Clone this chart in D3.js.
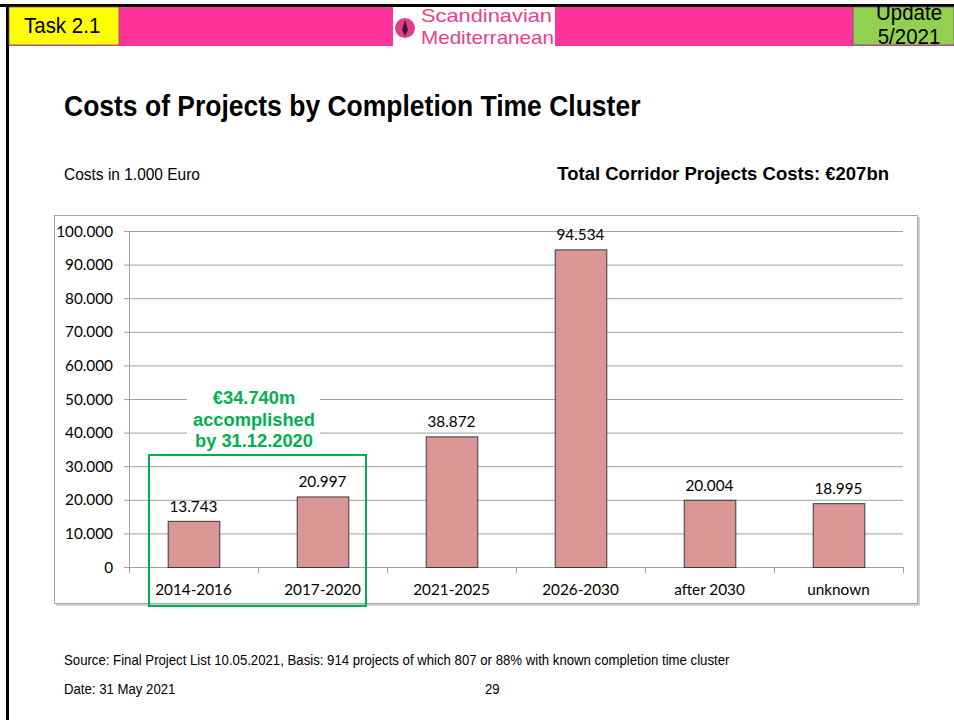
<!DOCTYPE html>
<html>
<head>
<meta charset="utf-8">
<script src="https://cdn.jsdelivr.net/npm/d3@7"></script>
<style>
  html,body{margin:0;padding:0;background:#fff;}
  svg{display:block;}
</style>
</head>
<body>
<div id="chart"></div>
<script>
// Kosten je Fertigstellungs-Cluster (in 1.000 Euro)
const categories = ["2014-2016","2017-2020","2021-2025","2026-2030","after 2030","unknown"];
const costs = [13743, 20997, 38872, 94534, 20004, 18995];
const yTicks = [0,10000,20000,30000,40000,50000,60000,70000,80000,90000,100000];
const noteLines = ["€34.740m","accomplished","by 31.12.2020"];

const W=954, H=720;
const svg = d3.select("#chart").append("svg").attr("width",W).attr("height",H);
const fmt = v => v===0 ? "0" : d3.format(",")(v).replace(/,/g,".");
const arial = "Liberation Sans, Arial, sans-serif";

// Folientext (leicht hochgezogen wie im Original)
function slideText(x,y,txt,size,{bold=false,anchor="start",sy=1.12,fill="#000"}={}){
  return svg.append("text").attr("transform",`translate(${x},${y}) scale(1,${sy})`)
    .attr("text-anchor",anchor).attr("font-family",arial).attr("font-weight",bold?"bold":"normal")
    .attr("font-size",size).attr("fill",fill).text(txt);
}

// Kopfzeile
svg.append("rect").attr("x",0).attr("y",4).attr("width",W).attr("height",3).attr("fill","#000");
svg.append("rect").attr("x",7).attr("y",7).attr("width",W-7).attr("height",39).attr("fill","#FF3399");
svg.append("rect").attr("x",6).attr("y",4).attr("width",3).attr("height",H-4).attr("fill","#000");
svg.append("rect").attr("x",9).attr("y",7).attr("width",110).attr("height",38).attr("fill","#FFFF00").attr("stroke","#7a4a8a").attr("stroke-width",0.8);
slideText(24,33,"Task 2.1",20.5,{sy:1.05});
svg.append("rect").attr("x",853).attr("y",7).attr("width",W-853).attr("height",38).attr("fill","#92D050").attr("stroke","#7a4a8a").attr("stroke-width",0.8);
slideText(909,20,"Update",20.5,{anchor:"middle",sy:1.05});
slideText(909,44,"5/2021",20.5,{anchor:"middle",sy:1.05});

// Logo
svg.append("rect").attr("x",393).attr("y",7).attr("width",162).attr("height",39).attr("fill","#fff");
svg.append("circle").attr("cx",405).attr("cy",28).attr("r",10).attr("fill","#E03C8A");
svg.append("path").attr("d","M405,20 L408,30 L405,36 L402,30 Z").attr("fill","#3a1a2a");
svg.append("text").attr("x",421).attr("y",22).attr("font-family",arial).attr("font-size",19).attr("textLength",131).attr("lengthAdjust","spacingAndGlyphs").attr("fill","#E8408E").text("Scandinavian");
svg.append("text").attr("x",421).attr("y",44).attr("font-family",arial).attr("font-size",19).attr("textLength",133).attr("lengthAdjust","spacingAndGlyphs").attr("fill","#E8408E").text("Mediterranean");

// Titel
slideText(64,116,"Costs of Projects by Completion Time Cluster",26.5,{bold:true,sy:1.1});
slideText(64,180,"Costs in 1.000 Euro",15.5);
slideText(889,180,"Total Corridor Projects Costs: €207bn",18.5,{bold:true,anchor:"end",sy:1.0});

// Diagrammrahmen
svg.append("rect").attr("x",56).attr("y",217).attr("width",864).attr("height",389).attr("fill","#d0d0d0");
svg.append("rect").attr("x",54.5).attr("y",215.5).attr("width",863).attr("height",388).attr("fill","#fff").attr("stroke","#a6a6a6").attr("stroke-width",1);

const m = {l:129, r:903, t:231, b:567};
const x = d3.scaleBand().domain(categories).range([m.l,m.r]).paddingInner(0.6).paddingOuter(0.3);
const y = d3.scaleLinear().domain([0,100000]).range([m.b,m.t]);
const font = "Lato, Open Sans, sans-serif";

// Gitterlinien + Y-Achse
const gy = svg.append("g");
gy.selectAll("line").data(yTicks).join("line")
  .attr("x1",m.l-5).attr("x2",m.r).attr("y1",d=>y(d)+0.5).attr("y2",d=>y(d)+0.5)
  .attr("stroke","#a0a0a0").attr("stroke-width",1);
gy.selectAll("text").data(yTicks).join("text")
  .attr("x",113).attr("y",d=>y(d)).attr("dy",".36em").attr("text-anchor","end")
  .attr("font-family",font).attr("font-size",15.3).attr("fill","#000").text(fmt);
svg.append("line").attr("x1",m.l+0.5).attr("x2",m.l+0.5).attr("y1",m.t).attr("y2",m.b+5).attr("stroke","#a0a0a0");

// X-Achse Ticks an Bandgrenzen
const bounds = d3.range(categories.length+1).map(i=>m.l+i*(m.r-m.l)/categories.length);
svg.append("g").selectAll("line").data(bounds).join("line")
  .attr("x1",d=>d+0.5).attr("x2",d=>d+0.5).attr("y1",m.b).attr("y2",m.b+6).attr("stroke","#a0a0a0");
svg.append("g").selectAll("text").data(categories).join("text")
  .attr("x",d=>x(d)+x.bandwidth()/2).attr("y",595).attr("text-anchor","middle")
  .attr("font-family",font).attr("font-size",15.3).attr("fill","#000").text(d=>d);

// Balken
svg.append("g").selectAll("rect").data(costs).join("rect")
  .attr("x",(d,i)=>x(categories[i])+0.5).attr("y",d=>y(d)+0.5)
  .attr("width",x.bandwidth()).attr("height",d=>y(0)-y(d))
  .attr("fill","#D99694").attr("stroke","#3a3a3a").attr("stroke-width",1);
svg.append("g").selectAll("text").data(costs).join("text")
  .attr("x",(d,i)=>x(categories[i])+x.bandwidth()/2).attr("y",d=>y(d)-9).attr("text-anchor","middle")
  .attr("font-family",font).attr("font-size",15.3).attr("fill","#000").text(fmt);

// Markierung abgeschlossene Projekte
svg.append("rect").attr("x",187).attr("y",385).attr("width",133).attr("height",68).attr("fill","#fff");
svg.append("rect").attr("x",149).attr("y",455).attr("width",217).attr("height",151).attr("fill","none").attr("stroke","#00B050").attr("stroke-width",2);
svg.append("g").selectAll("text").data(noteLines).join("text")
  .attr("x",254).attr("y",(d,i)=>404+i*21.5).attr("text-anchor","middle")
  .attr("font-family",arial).attr("font-weight","bold").attr("font-size",18.3).attr("fill","#00B050").text(d=>d);

// Fußzeile
slideText(64,665,"Source: Final Project List 10.05.2021, Basis: 914 projects of which 807 or 88% with known completion time cluster",13.2,{sy:1.1});
slideText(64,694,"Date: 31 May 2021",13.2,{sy:1.1});
slideText(485,694,"29",13.2,{sy:1.1});
</script>
</body>
</html>
